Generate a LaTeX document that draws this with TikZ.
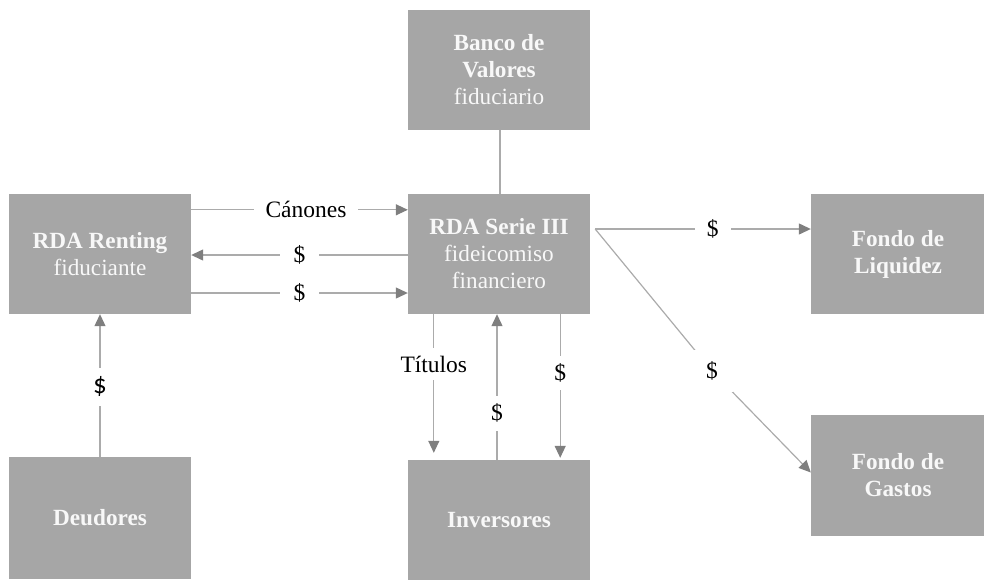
\documentclass[tikz,border=0pt]{standalone}
\usepackage{fontspec}
\setmainfont{Liberation Serif}
\newfontfamily\calfont{Carlito}
\usetikzlibrary{arrows.meta}
\definecolor{boxgray}{HTML}{A6A6A6}
\definecolor{linegray}{HTML}{ABABAB}
\definecolor{tipgray}{HTML}{7F7F7F}
\definecolor{boxtext}{HTML}{F8F8F8}
\tikzset{
  box/.style={fill=boxgray, draw=none, text=boxtext, align=center, inner sep=0pt,
    font=\fontsize{23.2}{27}\selectfont},
  conn/.style={draw=linegray, line width=1.2pt},
  arr/.style={conn, -{Triangle[length=12pt,width=11pt,color=tipgray]}},
  lbl/.style={fill=white, text=black, inner xsep=8pt, inner ysep=3pt,
    font=\fontsize{23.5}{27}\selectfont},
}
\begin{document}
\begin{tikzpicture}[x=1pt, y=-1pt]
\useasboundingbox (0,0) rectangle (984,579);
% boxes
\node[box, minimum width=182pt, minimum height=120pt] (banco) at (499,70)
  {\textbf{Banco de}\\\textbf{Valores}\\fiduciario};
\node[box, minimum width=182pt, minimum height=120pt] (renting) at (100,254)
  {\textbf{RDA Renting}\\fiduciante};
\node[box, minimum width=182pt, minimum height=120pt] (serie) at (499,254)
  {\textbf{RDA Serie III}\\fideicomiso\\financiero};
\node[box, minimum width=174pt, minimum height=120pt] (liquidez) at (898,254)
  {\textbf{Fondo de}\\\textbf{Liquidez}};
\node[box, minimum width=174pt, minimum height=121pt] (gastos) at (898,475.5)
  {\textbf{Fondo de}\\\textbf{Gastos}};
\node[box, minimum width=182pt, minimum height=122pt] (deudores) at (100,518)
  {\textbf{Deudores}};
\node[box, minimum width=182pt, minimum height=120pt] (inversores) at (499,520)
  {\textbf{Inversores}};
% helper coordinates
\coordinate (sout) at ([xshift=5pt,yshift=25pt]serie.east);
\coordinate (dpt) at (712,371);
% connectors
\draw[conn] ([xshift=1pt]banco.south) -- ([xshift=1pt]serie.north);
\draw[arr] ([yshift=-16pt]renting.north east) -- node[lbl, pos=0.53, inner xsep=12pt] {Cánones} ([yshift=-16pt]serie.north west);
\draw[arr] ([yshift=-1pt]serie.west) -- node[lbl, pos=0.5, inner xsep=14pt] {\$} ([yshift=-1pt]renting.east);
\draw[arr] ([yshift=-39pt]renting.east) -- node[lbl, pos=0.5, inner xsep=14pt] {\$} ([yshift=-39pt]serie.west);
\draw[arr] (sout) -- node[lbl, pos=0.545, inner xsep=12pt] {\$} (sout -| liquidez.west);
\draw[arr] (sout) -- (dpt) -- ([yshift=3pt]gastos.west);
\node[lbl, inner xsep=15pt, inner ysep=12pt] (dlbl) at (dpt) {\$};
\draw[arr] ([xshift=26pt]serie.south west) -- node[lbl, pos=0.36, inner xsep=2pt, inner ysep=8pt] {Títulos} ([xshift=26pt, yshift=7pt]inversores.north west);
\draw[arr] ([xshift=-2pt]inversores.north) -- node[lbl, pos=0.32, inner ysep=8pt] {\$} ([xshift=-2pt]serie.south);
\draw[arr] ([xshift=-30pt]serie.south east) -- node[lbl, pos=0.41, inner ysep=8pt] {\$} ([xshift=-30pt, yshift=2pt]inversores.north east);
\draw[arr] (deudores.north) -- node[lbl, pos=0.49, inner ysep=9pt, font=\calfont\fontsize{27}{30}\selectfont] {\$} (renting.south);
\end{tikzpicture}
\end{document}
